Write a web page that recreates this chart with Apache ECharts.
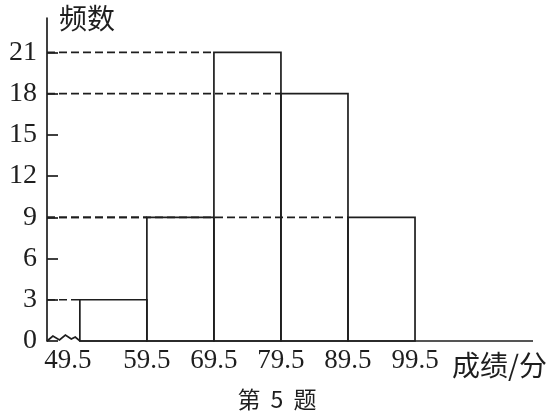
<!DOCTYPE html>
<html>
<head>
<meta charset="utf-8">
<script src="https://cdn.jsdelivr.net/npm/echarts@6/dist/echarts.min.js"></script>
<style>
html,body{margin:0;padding:0;background:#fff;}
#c{width:554px;height:419px;}
</style>
</head>
<body>
<div id="c"></div>
<script>
// ---- data ----
var binEdges = [49.5, 59.5, 69.5, 79.5, 89.5, 99.5];
var freq = [3, 9, 21, 18, 9];
var yTicks = [0, 3, 6, 9, 12, 15, 18, 21];
var xTicks = [49.5, 59.5, 69.5, 79.5, 89.5, 99.5];
var xName = '成绩/分';
var yName = '频数';
var captionParts = ['第', '5', '题'];

var INK = '#1e1e1e';
var LW = 1.7;
var NUMFONT = '"Liberation Serif","DejaVu Serif",serif';
var CJKFONT = '"Noto Sans CJK SC","Noto Sans",sans-serif';

var bins = freq.map(function (f, i) { return [binEdges[i], binEdges[i + 1], f]; });

var chart = echarts.init(document.getElementById('c'), null, { renderer: 'canvas' });

chart.setOption({
  animation: false,
  backgroundColor: '#fff',
  title: {
    text: captionParts[0] + '{n|' + captionParts[1] + '}' + captionParts[2],
    left: 'center',
    bottom: 3,
    textStyle: {
      fontFamily: CJKFONT, fontSize: 23, fontWeight: 'normal', color: INK,
      rich: { n: { fontFamily: CJKFONT, fontSize: 23, color: INK, padding: [0, 10, 0, 10] } }
    }
  },
  grid: { left: 47, right: 21, top: 18, bottom: 78, containLabel: false },
  xAxis: {
    type: 'value',
    min: 44.6,
    max: 117.1,
    axisLine: { show: false },
    axisTick: { show: false },
    splitLine: { show: false },
    axisLabel: {
      customValues: xTicks,
      margin: 6,
      color: INK,
      fontFamily: NUMFONT,
      fontSize: 27,
      formatter: function (v) {
        if (v === xTicks[0]) return '{a|' + v.toFixed(1) + '}';
        return v.toFixed(1);
      },
      rich: { a: { fontFamily: NUMFONT, fontSize: 27, color: INK, padding: [0, 24, 0, 0] } }
    },
    name: xName,
    nameLocation: 'end',
    nameGap: -81,
    nameTextStyle: {
      fontFamily: CJKFONT, fontSize: 28, color: INK,
      align: 'left', verticalAlign: 'top', padding: [10, 0, 0, 0]
    }
  },
  yAxis: {
    type: 'value',
    min: 0,
    max: 23.5,
    interval: 3,
    axisLine: { show: true, lineStyle: { color: INK, width: LW } },
    axisTick: { show: true, inside: true, length: 11, customValues: yTicks, lineStyle: { color: INK, width: LW } },
    splitLine: { show: false },
    axisLabel: {
      customValues: yTicks,
      margin: 10,
      color: INK,
      fontFamily: NUMFONT,
      fontSize: 28,
      padding: [6, 0, 0, 0]
    },
    name: yName,
    nameLocation: 'end',
    nameGap: 0,
    nameTextStyle: {
      fontFamily: CJKFONT, fontSize: 28, color: INK,
      align: 'left', verticalAlign: 'middle', padding: [0, 0, 0, 12]
    }
  },
  series: [
    {
      // dashed reference lines from the y axis to the left edge of each bar
      type: 'custom',
      z: 1,
      data: bins,
      renderItem: function (params, api) {
        var cs = params.coordSys;
        var p = api.coord([api.value(0), api.value(2)]);
        return {
          type: 'line',
          shape: { x1: cs.x, y1: p[1], x2: p[0], y2: p[1] },
          style: { stroke: INK, lineWidth: LW, lineDash: [8, 4], fill: null }
        };
      }
    },
    {
      // broken x axis with zigzag before the first bin
      type: 'custom',
      z: 2,
      data: [[binEdges[0], 0]],
      renderItem: function (params, api) {
        var cs = params.coordSys;
        var s = api.coord([api.value(0), 0]);
        var x0 = cs.x, y0 = s[1], x1 = s[0];
        var w = x1 - x0;
        var zz = [[0, 0], [0.18, -5], [0.38, -1], [0.56, -6], [0.74, -2], [0.86, -4], [1, 0]];
        var pts = zz.map(function (q) { return [x0 + q[0] * w, y0 + q[1]]; });
        pts.push([cs.x + cs.width, y0]);
        return {
          type: 'polyline',
          shape: { points: pts },
          style: { stroke: INK, lineWidth: LW, fill: null }
        };
      }
    },
    {
      // histogram bars
      type: 'custom',
      z: 3,
      data: bins,
      renderItem: function (params, api) {
        var tl = api.coord([api.value(0), api.value(2)]);
        var br = api.coord([api.value(1), 0]);
        return {
          type: 'rect',
          shape: { x: tl[0], y: tl[1], width: br[0] - tl[0], height: br[1] - tl[1] },
          style: { stroke: INK, lineWidth: LW, fill: null }
        };
      }
    }
  ]
});
</script>
</body>
</html>
